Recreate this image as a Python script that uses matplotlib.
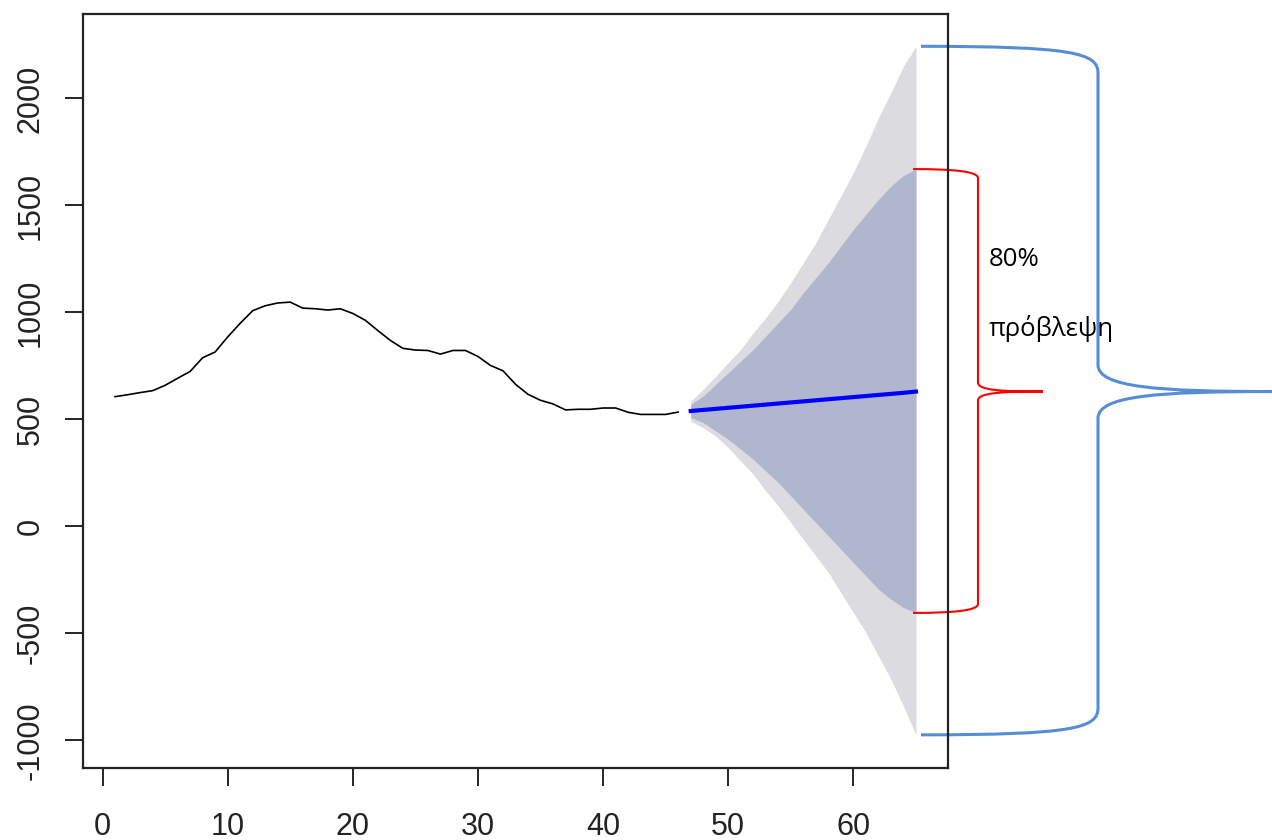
import numpy as np
import matplotlib
matplotlib.use("Agg")
import matplotlib.pyplot as plt
from matplotlib.path import Path
from matplotlib.patches import PathPatch
from matplotlib import transforms

plt.rcParams['axes.unicode_minus'] = False

# observed series, t = 1..46
obs = [606, 615, 625, 634, 659, 692, 724, 788, 815, 885,
       949, 1008, 1031, 1044, 1048, 1020, 1017, 1011, 1017, 995,
       963, 915, 869, 832, 824, 822, 805, 822, 822, 794,
       752, 727, 664, 617, 589, 572, 544, 547, 547, 553,
       553, 533, 523, 523, 523, 534]

# forecast, t = 47..65
fc_mean = [539, 544, 549, 554, 559, 564, 569, 574, 579, 584,
           589, 594, 599, 604, 609, 614, 619, 624, 630]
hi80 = [570, 609, 664, 718, 772, 827, 889, 952, 1014, 1092,
        1162, 1232, 1310, 1388, 1458, 1528, 1590, 1640, 1670]
lo80 = [508, 485, 445, 407, 360, 313, 258, 204, 142, 79,
        17, -45, -107, -170, -232, -294, -341, -380, -405]
hi95 = [585, 640, 702, 765, 827, 905, 975, 1053, 1139, 1232,
        1326, 1435, 1544, 1653, 1777, 1910, 2027, 2151, 2244]
lo95 = [492, 461, 422, 368, 305, 243, 165, 95, 17, -61,
        -139, -216, -310, -403, -497, -606, -715, -840, -975]

t_obs = np.arange(1, len(obs) + 1)
t_fc = np.arange(len(obs) + 1, len(obs) + 1 + len(fc_mean))

W, H = 1272, 840
fig = plt.figure(figsize=(W / 100, H / 100), dpi=100)
ax = fig.add_axes([83 / W, 1 - 768 / H, (948 - 83) / W, (768 - 14) / H])

ax.fill_between(t_fc, lo95, hi95, color="#DBDBE0", lw=0)
ax.fill_between(t_fc, lo80, hi80, color="#B1B6CF", lw=0)
ax.plot(t_obs, obs, color="black", lw=1.2)
ax.plot(t_fc, fc_mean, color="#0000FF", lw=3)

ax.set_xlim(1 - 2.56, 65 + 2.56)
ax.set_ylim(-1130, 2395)
ax.set_xticks(range(0, 61, 10))
ax.set_yticks(range(-1000, 2001, 500))
for s in ax.spines.values():
    s.set_linewidth(1.6)
    s.set_color("#222222")
ax.tick_params(length=13, width=1.2, labelsize=22)
ax.tick_params(axis="x", pad=19)
ax.tick_params(axis="y", pad=14)
for lab in ax.get_xticklabels() + ax.get_yticklabels():
    lab.set_family("Liberation Sans")
    lab.set_color("#222222")
for lab in ax.get_yticklabels():
    lab.set_rotation(90)
    lab.set_va("center")

# braces: x in figure pixels, y in data units
tr = transforms.blended_transform_factory(
    transforms.Affine2D().scale(1 / W, 1 / H) + fig.transFigure, ax.transData)


def brace(x0, xv, xtip, top, tip, bot, r, color, lw):
    verts = [(x0, top), (xv - 25, top), (xv, top - 0.25 * r), (xv, top - r),
             (xv, tip + r),
             (xv, tip + 0.15 * r), (xv + 0.35 * (xtip - xv), tip), (xtip, tip),
             (xv + 0.35 * (xtip - xv), tip), (xv, tip - 0.15 * r), (xv, tip - r),
             (xv, bot + r),
             (xv, bot + 0.25 * r), (xv - 25, bot), (x0, bot)]
    codes = [Path.MOVETO, Path.CURVE4, Path.CURVE4, Path.CURVE4,
             Path.LINETO,
             Path.CURVE4, Path.CURVE4, Path.CURVE4,
             Path.CURVE4, Path.CURVE4, Path.CURVE4,
             Path.LINETO,
             Path.CURVE4, Path.CURVE4, Path.CURVE4]
    p = PathPatch(Path(verts, codes), fill=False, edgecolor=color, lw=lw,
                  transform=tr, clip_on=False, capstyle="butt")
    ax.add_patch(p)


brace(921, 1098, 1272, hi95[-1], fc_mean[-1], lo95[-1], 125, "#558ED5", 2.2)
brace(913, 978, 1043, hi80[-1], fc_mean[-1], lo80[-1], 42, "#FF0000", 1.5)

fig.text(989 / W, 1 - 259 / H, "80%", fontsize=18.5, family="Open Sans",
         va="center", ha="left")
fig.text(989 / W, 1 - 329 / H, "πρόβλεψη", fontsize=18.5, family="Open Sans",
         va="center", ha="left")

fig.savefig("out.png", dpi=100)
